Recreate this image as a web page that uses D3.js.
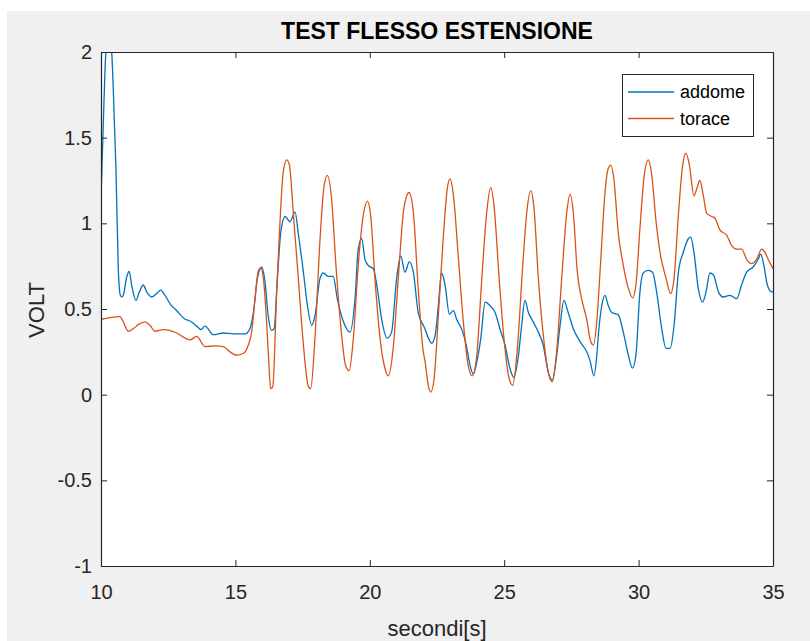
<!DOCTYPE html>
<html>
<head>
<meta charset="utf-8">
<script src="https://cdn.jsdelivr.net/npm/d3@7/dist/d3.min.js"></script>
<style>
  html, body { margin: 0; padding: 0; background: #ffffff; }
  svg { display: block; }
  text { font-family: "Liberation Sans", Arial, Helvetica, sans-serif; }
</style>
</head>
<body>
<script>
// ---------- data ----------
const titleText = "TEST FLESSO ESTENSIONE";
const xLabel = "secondi[s]";
const yLabel = "VOLT";
const seriesNames = ["addome", "torace"];
const xTicks = [10, 15, 20, 25, 30, 35];
const yTicks = [-1, -0.5, 0, 0.5, 1, 1.5, 2];

const addomeT = [10.00,10.08,10.15,10.22,10.30,10.38,10.46,10.56,10.64,10.72,10.77,10.83,10.96,11.05,11.14,11.30,11.43,11.57,11.70,11.89,12.07,12.22,12.38,12.57,12.82,13.13,13.31,13.56,13.72,13.87,14.18,14.55,14.92,15.36,15.54,15.67,15.82,15.98,16.10,16.22,16.35,16.44,16.56,16.69,16.85,17.03,17.22,17.34,17.53,17.68,17.84,17.96,18.15,18.27,18.46,18.64,18.79,19.01,19.26,19.45,19.57,19.70,19.82,19.94,20.13,20.26,20.44,20.65,20.81,21.00,21.15,21.31,21.47,21.62,21.80,21.99,22.05,22.18,22.30,22.43,22.55,22.67,22.80,22.96,23.11,23.23,23.46,23.60,23.73,23.85,23.98,24.13,24.29,24.47,24.66,24.84,25.03,25.22,25.36,25.53,25.65,25.77,25.90,26.08,26.27,26.45,26.64,26.79,26.95,27.08,27.22,27.38,27.57,27.82,28.07,28.19,28.34,28.44,28.52,28.63,28.75,28.87,29.00,29.24,29.43,29.62,29.77,29.90,30.05,30.17,30.36,30.52,30.67,30.86,31.02,31.17,31.32,31.48,31.66,31.85,31.94,32.06,32.22,32.38,32.51,32.65,32.78,32.97,33.15,33.40,33.65,33.83,34.02,34.26,34.45,34.54,34.66,34.79,34.95,35.00];
const addomeV = [1.15,1.55,1.90,2.06,2.08,2.04,1.77,1.30,0.75,0.58,0.57,0.58,0.69,0.72,0.64,0.55,0.60,0.64,0.60,0.57,0.59,0.61,0.58,0.53,0.49,0.44,0.43,0.40,0.38,0.40,0.35,0.36,0.355,0.355,0.385,0.48,0.68,0.745,0.66,0.46,0.375,0.385,0.67,0.95,1.04,1.01,1.065,0.94,0.715,0.52,0.405,0.46,0.68,0.71,0.69,0.69,0.56,0.43,0.365,0.56,0.85,0.91,0.79,0.755,0.735,0.64,0.44,0.33,0.365,0.68,0.81,0.715,0.775,0.715,0.48,0.405,0.385,0.33,0.30,0.345,0.52,0.71,0.64,0.47,0.49,0.44,0.365,0.28,0.17,0.12,0.19,0.33,0.54,0.52,0.48,0.385,0.29,0.15,0.10,0.23,0.405,0.55,0.48,0.425,0.365,0.29,0.13,0.085,0.225,0.405,0.55,0.48,0.385,0.31,0.25,0.20,0.11,0.22,0.38,0.52,0.58,0.52,0.48,0.467,0.365,0.23,0.155,0.23,0.60,0.71,0.725,0.715,0.60,0.385,0.27,0.27,0.405,0.715,0.83,0.91,0.92,0.83,0.62,0.54,0.60,0.71,0.70,0.60,0.57,0.58,0.56,0.64,0.715,0.745,0.79,0.82,0.755,0.64,0.60,0.60];

const toraceT = [10.00,10.33,10.71,10.83,11.02,11.20,11.40,11.64,11.82,12.01,12.32,12.82,13.13,13.31,13.56,13.87,14.24,14.55,14.80,15.05,15.29,15.48,15.61,15.73,15.85,15.94,16.04,16.16,16.24,16.31,16.39,16.54,16.66,16.78,16.91,17.01,17.15,17.34,17.53,17.71,17.80,17.96,18.15,18.30,18.42,18.58,18.74,18.92,19.10,19.23,19.39,19.57,19.76,19.91,20.03,20.19,20.38,20.57,20.69,20.87,21.06,21.27,21.46,21.62,21.80,21.99,22.05,22.18,22.27,22.39,22.55,22.73,22.88,22.98,23.11,23.29,23.48,23.66,23.81,23.98,24.16,24.35,24.50,24.62,24.82,24.99,25.19,25.32,25.49,25.69,25.84,25.99,26.11,26.27,26.48,26.64,26.79,26.95,27.14,27.33,27.45,27.57,27.72,27.88,28.07,28.22,28.32,28.44,28.59,28.75,28.87,28.96,29.08,29.24,29.43,29.62,29.78,29.90,30.05,30.21,30.36,30.49,30.65,30.82,31.02,31.19,31.32,31.48,31.64,31.76,31.89,32.06,32.16,32.28,32.41,32.53,32.72,32.84,33.03,33.28,33.46,33.65,33.83,34.02,34.20,34.39,34.58,34.70,34.82,35.00];
const toraceV = [0.44,0.45,0.455,0.425,0.37,0.385,0.41,0.425,0.405,0.37,0.38,0.36,0.33,0.32,0.34,0.28,0.285,0.28,0.25,0.23,0.24,0.29,0.37,0.56,0.72,0.74,0.68,0.425,0.20,0.035,0.045,0.62,1.01,1.30,1.37,1.34,1.07,0.68,0.29,0.05,0.035,0.33,0.91,1.22,1.28,1.14,0.755,0.40,0.17,0.14,0.33,0.755,1.05,1.13,1.05,0.68,0.33,0.15,0.11,0.27,0.68,1.09,1.18,1.065,0.62,0.25,0.20,0.05,0.015,0.09,0.46,0.91,1.20,1.26,1.165,0.81,0.425,0.17,0.11,0.23,0.66,1.065,1.21,1.105,0.66,0.33,0.09,0.055,0.27,0.755,1.065,1.19,1.086,0.68,0.31,0.13,0.075,0.25,0.68,1.065,1.17,1.065,0.715,0.56,0.44,0.31,0.29,0.42,0.78,1.18,1.32,1.34,1.26,0.95,0.755,0.62,0.565,0.64,0.97,1.28,1.37,1.28,1.01,0.81,0.68,0.59,0.68,1.05,1.34,1.41,1.34,1.16,1.20,1.25,1.16,1.06,1.04,1.03,0.96,0.93,0.87,0.85,0.85,0.79,0.765,0.79,0.85,0.83,0.79,0.735];

const colors = ["#0072BD", "#D95319"];

// ---------- layout ----------
const W = 810, H = 641;
const plot = { left: 101, right: 773, top: 52, bottom: 566 };
const axisColor = "#262626";

const svg = d3.select("body").append("svg").attr("width", W).attr("height", H);

// figure background
svg.append("rect").attr("x", 7).attr("y", 11).attr("width", W - 7).attr("height", H - 11).attr("fill", "#F0F0F0");
// axes background
svg.append("rect").attr("x", plot.left).attr("y", plot.top)
  .attr("width", plot.right - plot.left).attr("height", plot.bottom - plot.top).attr("fill", "#ffffff");

const x = d3.scaleLinear().domain([10, 35]).range([plot.left, plot.right]);
const y = d3.scaleLinear().domain([-1, 2]).range([plot.bottom, plot.top]);

// clip
svg.append("clipPath").attr("id", "clip").append("rect")
  .attr("x", plot.left).attr("y", plot.top)
  .attr("width", plot.right - plot.left).attr("height", plot.bottom - plot.top);

const line = d3.line().x(d => x(d[0])).y(d => y(d[1])).curve(d3.curveMonotoneX);
const addome = addomeT.map((t, i) => [t, addomeV[i]]);
const torace = toraceT.map((t, i) => [t, toraceV[i]]);

const g = svg.append("g").attr("clip-path", "url(#clip)");
g.append("path").datum(addome).attr("d", line).attr("fill", "none")
  .attr("stroke", colors[0]).attr("stroke-width", 1.3);
g.append("path").datum(torace).attr("d", line).attr("fill", "none")
  .attr("stroke", colors[1]).attr("stroke-width", 1.3);

// axes
const tickLen = 6;
function styleAxis(sel) {
  sel.selectAll("path.domain").attr("stroke", axisColor).attr("stroke-width", 1.2);
  sel.selectAll(".tick line").attr("stroke", axisColor).attr("stroke-width", 1);
  sel.selectAll(".tick text").attr("fill", axisColor)
    .style("font-family", '"Liberation Sans", Arial, sans-serif').style("font-size", "20px");
}
const fmt = d => (d === -1 ? "-1" : d3.format("")(d).replace("−", "-"));

svg.append("g").attr("transform", `translate(0,${plot.bottom})`)
  .call(d3.axisBottom(x).tickValues(xTicks).tickSizeInner(-tickLen).tickSizeOuter(0).tickPadding(19).tickFormat(d => String(d)))
  .call(styleAxis);
svg.append("g").attr("transform", `translate(0,${plot.top})`)
  .call(d3.axisTop(x).tickValues(xTicks).tickSizeInner(-tickLen).tickSizeOuter(0).tickFormat(""))
  .call(styleAxis);
svg.append("g").attr("transform", `translate(${plot.left},0)`)
  .call(d3.axisLeft(y).tickValues(yTicks).tickSizeInner(-tickLen).tickSizeOuter(0).tickPadding(9).tickFormat(d => String(d)))
  .call(styleAxis);
svg.append("g").attr("transform", `translate(${plot.right},0)`)
  .call(d3.axisRight(y).tickValues(yTicks).tickSizeInner(-tickLen).tickSizeOuter(0).tickFormat(""))
  .call(styleAxis);

// title & labels
svg.append("text").attr("x", (plot.left + plot.right) / 2).attr("y", 39)
  .attr("text-anchor", "middle").attr("font-weight", "bold").attr("font-size", 23)
  .attr("fill", "#000").text(titleText);
svg.append("text").attr("x", (plot.left + plot.right) / 2).attr("y", 636)
  .attr("text-anchor", "middle").attr("font-size", 22).attr("fill", axisColor).text(xLabel);
svg.append("text").attr("transform", `translate(44,310) rotate(-90)`)
  .attr("text-anchor", "middle").attr("font-size", 22).attr("fill", axisColor).text(yLabel);

// legend
const lg = svg.append("g");
lg.append("rect").attr("x", 622.5).attr("y", 74.5).attr("width", 131).attr("height", 62)
  .attr("fill", "#fff").attr("stroke", axisColor).attr("stroke-width", 1);
seriesNames.forEach((name, i) => {
  const yy = 92 + i * 26.5;
  lg.append("line").attr("x1", 628).attr("x2", 674).attr("y1", yy).attr("y2", yy)
    .attr("stroke", colors[i]).attr("stroke-width", 1.3);
  lg.append("text").attr("x", 680).attr("y", yy + 6).attr("font-size", 18)
    .attr("fill", "#000").text(name);
});
</script>
</body>
</html>
